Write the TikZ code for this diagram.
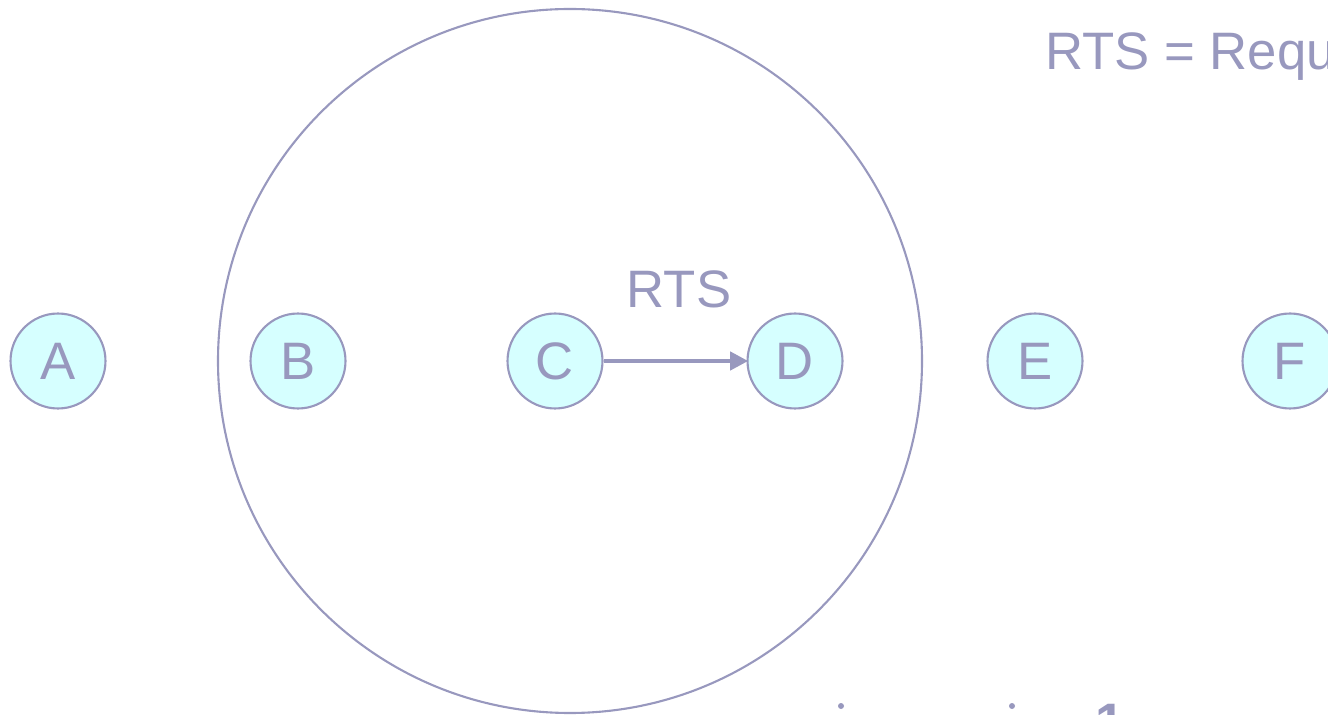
\documentclass[tikz,border=0pt]{standalone}
\usepackage{fontspec}
\setmainfont{Liberation Sans}
\usepackage{tikz}
\usetikzlibrary{arrows.meta}
\definecolor{edgegrey}{RGB}{152,152,190}
\definecolor{nodecyan}{RGB}{214,255,255}
\tikzset{
    every node/.style={font=\fontsize{30}{36}\selectfont, text=edgegrey},
    station/.style={circle, draw=edgegrey, fill=nodecyan, line width=1.2pt, minimum size=1.9cm, inner sep=0pt}
}

\begin{document}
\begin{tikzpicture}[x=0.02cm, y=-0.02cm]
    \useasboundingbox (0, 0) rectangle (1328, 715);
    \clip (0, 0) rectangle (1328, 715);

    % range of C
    \draw [edgegrey, line width=1.2pt] (570, 361) circle [radius=352];

    \node [station] (A) at (58, 361) {A};
    \node [station] (B) at (298, 361) {B};
    \node [station] (C) at (555, 361) {C};
    \node [station] (D) at (795, 361) {D};
    \node [station] (E) at (1035, 361) {E};
    \node [station] (F) at (1290, 361) {F};

    \draw [-{Triangle[length=0.36cm, width=0.36cm]}, edgegrey, line width=2.3pt, shorten >=-1pt] (C) -- (D);
    \node (rts) at (679, 289) {RTS};

    \node [anchor=base west, inner sep=0pt] (legend) at (1045, 70) {RTS = Request To Send};

    % cut off text at the bottom
    \fill [edgegrey] (841, 706) circle [radius=3];
    \fill [edgegrey] (1012, 706) circle [radius=3];
    \node [anchor=north, inner sep=0pt] (one) at (1110, 704) {\bfseries 1};
\end{tikzpicture}
\end{document}
